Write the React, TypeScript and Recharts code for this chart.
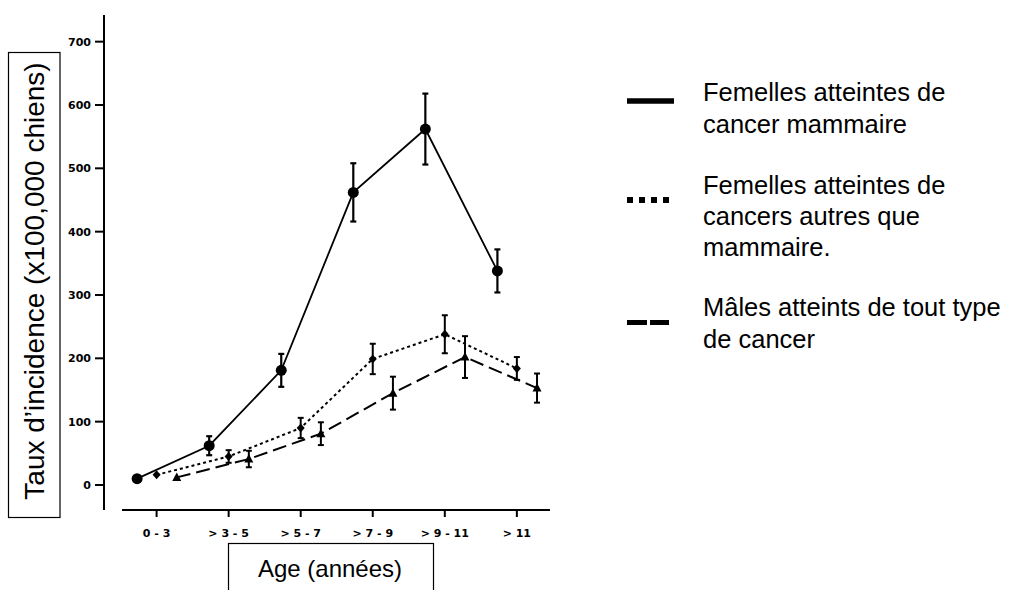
import React from "react";
import { LineChart, Line, XAxis, YAxis, ErrorBar, Legend, Label } from "recharts";

// age groups (x categories) and y ticks
const ageGroups = ["0 - 3", "> 3 - 5", "> 5 - 7", "> 7 - 9", "> 9 - 11", "> 11"];
const yTicks = [0, 100, 200, 300, 400, 500, 600, 700];

// incidence per 100,000 dogs
const mammaryValues = [10, 62, 181, 462, 562, 338];
const mammaryErrors = [0, 15, 26, 46, 56, 34];
const otherValues = [16, 45, 90, 199, 238, 184];
const otherErrors = [0, 10, 16, 24, 30, 18];
const maleValues = [12, 41, 81, 145, 202, 153];
const maleErrors = [0, 13, 18, 26, 33, 23];

const mammaryLabel = ["Femelles atteintes de", "cancer mammaire"];
const otherLabel = ["Femelles atteintes de", "cancers autres que", "mammaire."];
const maleLabel = ["Mâles atteints de tout type", "de cancer"];

const W = 1016;
const H = 590;
const TICK_FONT = "'DejaVu Sans', Verdana, sans-serif";
const TEXT_FONT = "'Liberation Sans', Arial, Helvetica, sans-serif";

const toPoints = (values: number[], errors: number[], shift: number) =>
  values.map((v, i) => ({ x: i + shift, y: v, err: errors[i] }));

const mammaryData = toPoints(mammaryValues, mammaryErrors, -0.27);
const otherData = toPoints(otherValues, otherErrors, 0);
const maleData = toPoints(maleValues, maleErrors, 0.28);

const circleDot = (p: any) => (
  <circle key={`c-${p.index}`} cx={p.cx} cy={p.cy} r={5.5} fill="#000" />
);

const diamondDot = (p: any) => (
  <path
    key={`d-${p.index}`}
    d={`M${p.cx},${p.cy - 4.5}L${p.cx + 4},${p.cy}L${p.cx},${p.cy + 4.5}L${p.cx - 4},${p.cy}Z`}
    fill="#000"
  />
);

const triangleDot = (p: any) => (
  <path
    key={`t-${p.index}`}
    d={`M${p.cx},${p.cy - 5}L${p.cx + 4.5},${p.cy + 3.5}L${p.cx - 4.5},${p.cy + 3.5}Z`}
    fill="#000"
  />
);

function LegendBlock() {
  const textStyle = { fontFamily: TEXT_FONT, fontSize: 25.5, fill: "#000" };
  return (
    <svg width={416} height={300} style={{ display: "block" }}>
      {/* solid */}
      <line x1={27} x2={74} y1={41} y2={41} stroke="#000" strokeWidth={5.5} />
      {mammaryLabel.map((t, i) => (
        <text key={t} x={103} y={40.5 + i * 32} {...textStyle}>
          {t}
        </text>
      ))}
      {/* dotted */}
      <line x1={27} x2={69} y1={140} y2={140} stroke="#000" strokeWidth={6} strokeDasharray="6 6" />
      {otherLabel.map((t, i) => (
        <text key={t} x={103} y={133.5 + i * 31} {...textStyle}>
          {t}
        </text>
      ))}
      {/* dashed */}
      <line x1={27} x2={69} y1={262.5} y2={262.5} stroke="#000" strokeWidth={5} strokeDasharray="20 3" />
      {maleLabel.map((t, i) => (
        <text key={t} x={103} y={256 + i * 32} {...textStyle}>
          {t}
        </text>
      ))}
    </svg>
  );
}

export default function App() {
  return (
    <div style={{ position: "absolute", left: 0, top: 0, width: W, height: H, background: "#fff" }}>
      <LineChart
        width={W}
        height={H}
        margin={{ top: 15, right: 466, bottom: 50, left: 44 }}
      >
        <XAxis
          type="number"
          dataKey="x"
          domain={[-0.73, 5.46]}
          ticks={[0, 1, 2, 3, 4, 5]}
          tickFormatter={(i: number) => ageGroups[i]}
          height={30}
          tickSize={7}
          tickMargin={12}
          axisLine={{ stroke: "#000", strokeWidth: 2, strokeDasharray: "0 18 2000" }}
          tickLine={{ stroke: "#000", strokeWidth: 2 }}
          tick={{ fontFamily: TICK_FONT, fontSize: 11, fontWeight: "bold", fill: "#000" }}
        >
          <Label
            content={() => (
              <g>
                <rect x={228.5} y={543.5} width={205} height={60} fill="#fff" stroke="#000" strokeWidth={1.2} />
                <text x={330} y={577} textAnchor="middle" fontFamily={TEXT_FONT} fontSize={24} fill="#000">
                  Age (années)
                </text>
              </g>
            )}
          />
        </XAxis>
        <YAxis
          type="number"
          domain={[-39.5, 742.1]}
          ticks={yTicks}
          width={60}
          tickSize={9}
          tickMargin={4}
          axisLine={{ stroke: "#000", strokeWidth: 2 }}
          tickLine={{ stroke: "#000", strokeWidth: 2 }}
          tick={{ fontFamily: TICK_FONT, fontSize: 11, fontWeight: "bold", fill: "#000" }}
        >
          <Label
            content={() => (
              <g>
                <rect x={8.5} y={52.5} width={51.5} height={465} fill="#fff" stroke="#000" strokeWidth={1.2} />
                <text
                  x={43.5}
                  y={281}
                  transform="rotate(-90 43.5 281)"
                  textAnchor="middle"
                  fontFamily={TEXT_FONT}
                  fontSize={28}
                  fill="#000"
                >
                  Taux d’incidence (x100,000 chiens)
                </text>
              </g>
            )}
          />
        </YAxis>
        <Legend
          layout="vertical"
          align="center"
          verticalAlign="middle"
          wrapperStyle={{ left: 600, top: 60, width: 416 }}
          content={() => <LegendBlock />}
        />
        <Line
          data={mammaryData}
          dataKey="y"
          name="Femelles atteintes de cancer mammaire"
          stroke="#000"
          strokeWidth={1.8}
          dot={circleDot}
          activeDot={false}
          isAnimationActive={false}
        >
          <ErrorBar dataKey="err" direction="y" width={3} stroke="#000" strokeWidth={2.2} />
        </Line>
        <Line
          data={otherData}
          dataKey="y"
          name="Femelles atteintes de cancers autres que mammaire."
          stroke="#000"
          strokeWidth={2}
          strokeDasharray="3 3"
          dot={diamondDot}
          activeDot={false}
          isAnimationActive={false}
        >
          <ErrorBar dataKey="err" direction="y" width={3} stroke="#000" strokeWidth={2} />
        </Line>
        <Line
          data={maleData}
          dataKey="y"
          name="Mâles atteints de tout type de cancer"
          stroke="#000"
          strokeWidth={2}
          strokeDasharray="14 6"
          dot={triangleDot}
          activeDot={false}
          isAnimationActive={false}
        >
          <ErrorBar dataKey="err" direction="y" width={3} stroke="#000" strokeWidth={2} />
        </Line>
      </LineChart>
    </div>
  );
}
